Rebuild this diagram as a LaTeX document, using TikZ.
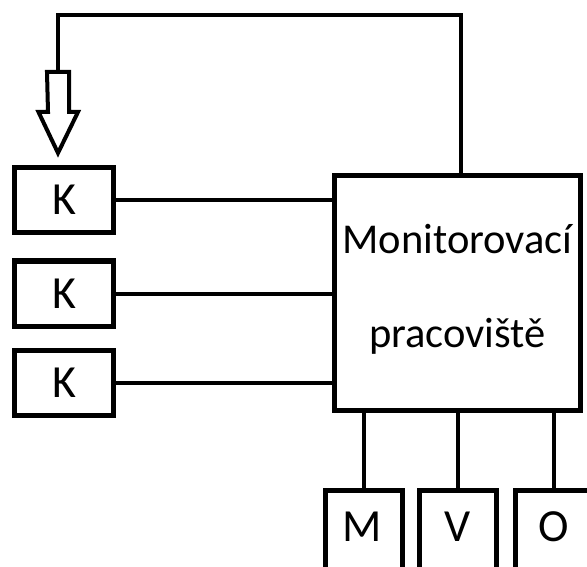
\documentclass[tikz,border=0pt]{standalone}
\usepackage{fontspec}
\setmainfont{Carlito}
\begin{document}
\begin{tikzpicture}[x=1pt,y=-1pt,
  kbox/.style={draw,line width=5pt,minimum width=99pt,minimum height=65pt,inner sep=0pt,font=\fontsize{46}{50}\selectfont},
  bbox/.style={draw,line width=5pt,minimum width=77pt,minimum height=110pt,inner sep=0pt,anchor=north},
  lbl/.style={font=\fontsize{46}{50}\selectfont,inner sep=0pt},
  mainbox/.style={draw,line width=5pt,minimum width=246pt,minimum height=235pt,inner sep=0pt},
  conn/.style={line width=4pt},
  hollow/.style={line width=4pt,line join=miter,fill=white}]
\useasboundingbox (0,0) rectangle (587,567);
\clip (0,0) rectangle (587,567);
\fill[white] (0,0) rectangle (587,567);
% main box
\node[mainbox] (mon) at (457.5,293) {};
\node[font=\fontsize{42.5}{94}\selectfont,align=center,inner sep=0pt] (montext) at (457.5,289) {Monitorovací\\pracoviště};
% K boxes
\node[kbox] (k1) at (64,200) {K};
\node[kbox] (k2) at (64,293.5) {K};
\node[kbox] (k3) at (64,382.5) {K};
% bottom boxes
\node[bbox] (m) at (364,487.5) {};
\node[bbox] (v) at (458,487.5) {};
\node[bbox] (o) at (554,487.5) {};
\node[lbl] (mt) at (362,527) {M};
\node[lbl] (vt) at (458,527) {V};
\node[lbl] (ot) at (554,527) {O};
% connectors K -> main
\draw[conn] (k1.east) -- (k1.east -| mon.west);
\draw[conn] (k2.east) -- (k2.east -| mon.west);
\draw[conn] (k3.east) -- (k3.east -| mon.west);
% connectors main -> bottom
\draw[conn] (m.north |- mon.south) -- (m.north);
\draw[conn] (v.north |- mon.south) -- (v.north);
\draw[conn] (o.north |- mon.south) -- (o.north);
% feedback
\coordinate (fb) at (461,0);
\coordinate (tail) at (58,72);
\draw[conn,line join=miter] (fb |- mon.north) -- (461,15) -- (58,15) -- (tail);
% hollow arrow
\draw[hollow] (tail) ++(-11,0) -- ++(22,0) -- ++(0,40) -- ++(9,0) -- (58,153) -- (38.5,112) -- ++(9.5,0) -- cycle;
\end{tikzpicture}
\end{document}
